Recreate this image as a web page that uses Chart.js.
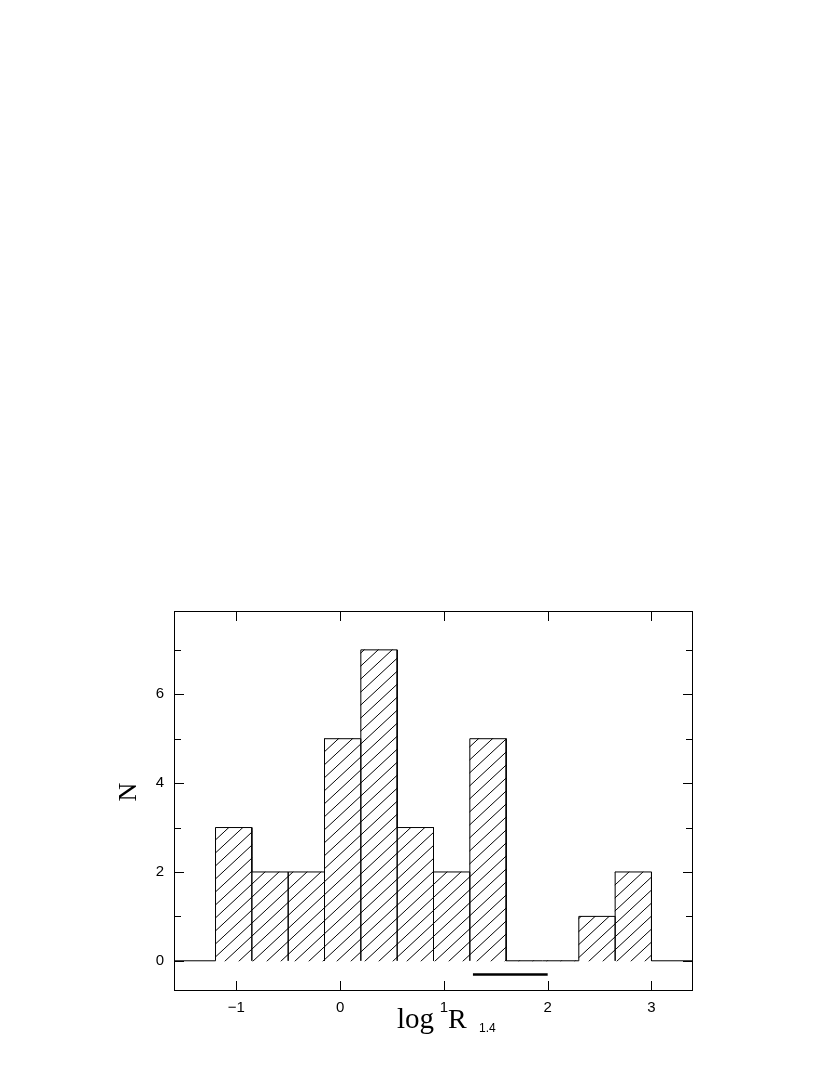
<!DOCTYPE html>
<html>
<head>
<meta charset="utf-8">
<script src="https://cdn.jsdelivr.net/npm/chart.js@4"></script>
<style>
  html, body { margin: 0; padding: 0; background: #fff; }
  #wrap { position: absolute; left: 0; top: 0; width: 830px; height: 1075px; }
</style>
</head>
<body>
<div id="wrap"><canvas id="histo" width="830" height="1075"></canvas></div>
<script>
// bin edges of the histogram (log R_1.4) and counts per bin
const binEdges = [-1.2, -0.85, -0.5, -0.15, 0.2, 0.55, 0.9, 1.25, 1.6, 1.95, 2.3, 2.65, 3.0];
const counts = [3, 2, 2, 5, 7, 3, 2, 5, 0, 0, 1, 2];
// the thick bar under the axis
const rangeX = [1.28, 2.0];
const rangeY = -0.31;
// axes
const xRange = [-1.6, 3.4];
const yRange = [-0.68, 7.875];
const xTicks = [-1, 0, 1, 2, 3];
const yTicks = [0, 1, 2, 3, 4, 5, 6, 7];
const yLabelTicks = [0, 2, 4, 6];

const tickFont = { family: '"Liberation Sans Narrow", "Liberation Sans", sans-serif', size: 15 };

function makeHatch() {
  const c = document.createElement('canvas');
  c.width = 14; c.height = 13;
  const g = c.getContext('2d');
  g.strokeStyle = '#000';
  g.lineWidth = 1;
  g.beginPath();
  [-14, 0, 14].forEach(dx => { g.moveTo(dx, 13); g.lineTo(dx + 14, 0); });
  g.stroke();
  return g.createPattern(c, 'repeat');
}

const barData = counts.map((c, i) => ({ x: (binEdges[i] + binEdges[i + 1]) / 2, y: c }));

// outline: every bar drawn as its own box (no bottom), zero line between
const outline = [{ x: xRange[0], y: 0 }];
counts.forEach((c, i) => {
  outline.push({ x: binEdges[i], y: 0 }, { x: binEdges[i], y: c },
               { x: binEdges[i + 1], y: c }, { x: binEdges[i + 1], y: 0 });
});
outline.push({ x: xRange[1], y: 0 });

const frameTicks = {
  id: 'frameTicks',
  afterDraw(chart) {
    const { ctx, chartArea: a, scales: { x, y } } = chart;
    ctx.save();
    ctx.strokeStyle = '#000';
    ctx.lineWidth = 1;
    ctx.strokeRect(a.left + 0.5, a.top + 0.5, a.right - a.left - 1, a.bottom - a.top - 1);
    ctx.beginPath();
    xTicks.forEach(v => {
      const px = Math.round(x.getPixelForValue(v)) + 0.5;
      ctx.moveTo(px, a.bottom); ctx.lineTo(px, a.bottom - 10);
      ctx.moveTo(px, a.top); ctx.lineTo(px, a.top + 10);
    });
    yTicks.forEach(v => {
      const py = Math.round(y.getPixelForValue(v)) + 0.5;
      const len = yLabelTicks.includes(v) ? 10 : 7;
      ctx.moveTo(a.left, py); ctx.lineTo(a.left + len, py);
      ctx.moveTo(a.right, py); ctx.lineTo(a.right - len, py);
    });
    ctx.stroke();

    // axis titles
    ctx.fillStyle = '#000';
    ctx.textBaseline = 'alphabetic';
    ctx.textAlign = 'left';
    ctx.font = '29px "Liberation Serif"';
    ctx.fillText('log', 397, 1028);
    ctx.font = '28px "Liberation Serif"';
    ctx.fillText('R', 448, 1028);
    ctx.font = '12px "Liberation Sans"';
    ctx.fillText('1.4', 479, 1032);

    ctx.translate(136, 792);
    ctx.rotate(-Math.PI / 2);
    ctx.textAlign = 'center';
    ctx.font = '26px "Liberation Serif"';
    ctx.fillText('N', 0, 0);
    ctx.restore();
  }
};

new Chart(document.getElementById('histo'), {
  type: 'bar',
  data: {
    datasets: [
      {
        type: 'line',
        data: outline,
        borderColor: '#000',
        borderWidth: 1,
        pointRadius: 0,
        fill: false,
        order: 0
      },
      {
        type: 'line',
        data: rangeX.map(v => ({ x: v, y: rangeY })),
        borderColor: '#000',
        borderWidth: 2.5,
        pointRadius: 0,
        fill: false,
        order: 0
      },
      {
        data: barData,
        backgroundColor: makeHatch(),
        borderWidth: 0,
        barPercentage: 1,
        categoryPercentage: 1,
        order: 1
      }
    ]
  },
  options: {
    responsive: false,
    animation: false,
    layout: { padding: { top: 611, right: 137, left: 0, bottom: 0 } },
    plugins: { legend: { display: false }, tooltip: { enabled: false } },
    scales: {
      x: {
        type: 'linear',
        offset: false,
        min: xRange[0], max: xRange[1],
        grid: { display: false, drawTicks: false, offset: false },
        border: { display: false },
        afterBuildTicks: s => { s.ticks = xTicks.map(v => ({ value: v })); },
        afterFit: s => { s.height = 84; },
        ticks: {
          padding: 8,
          color: '#000',
          font: tickFont,
          maxRotation: 0,
          callback: v => (v < 0 ? '\u2212' + Math.abs(v) : String(v))
        }
      },
      y: {
        type: 'linear',
        min: yRange[0], max: yRange[1],
        grid: { display: false, drawTicks: false },
        border: { display: false },
        afterBuildTicks: s => { s.ticks = yTicks.map(v => ({ value: v })); },
        afterFit: s => { s.width = 174; },
        ticks: {
          padding: 10,
          color: '#000',
          font: tickFont,
          callback: v => (yLabelTicks.includes(v) ? String(v) : '')
        }
      }
    }
  },
  plugins: [frameTicks]
});
</script>
</body>
</html>
